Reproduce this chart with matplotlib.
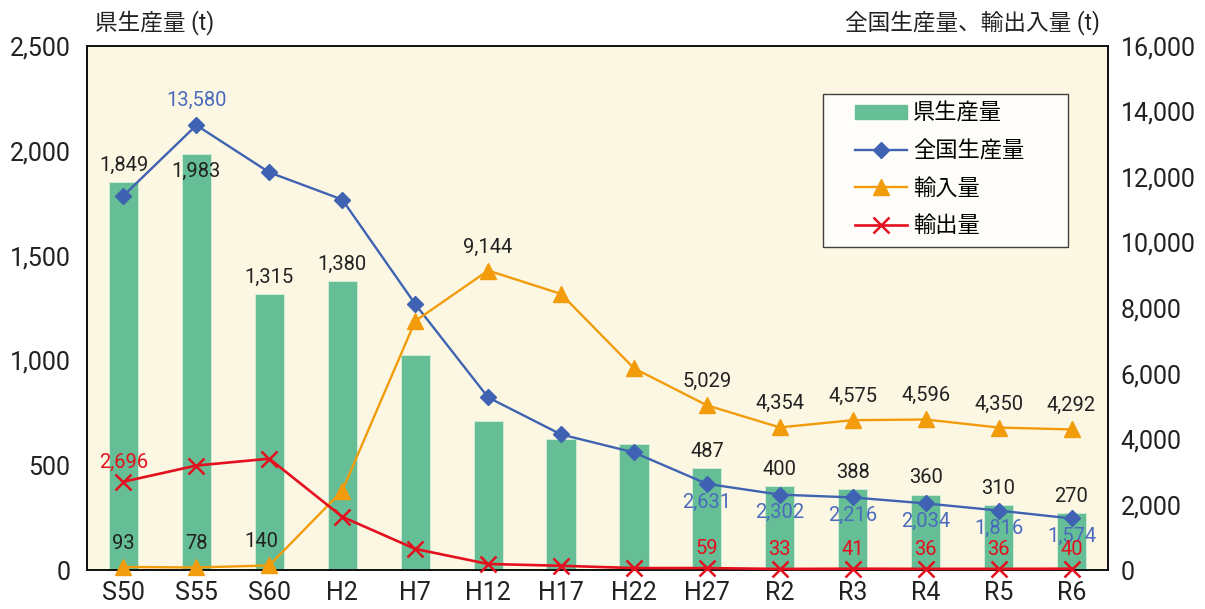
"""
Prefecture / national production, import and export chart
"""

            #################
            #### IMPORTS ####

import numpy as np
import matplotlib
matplotlib.use('Agg')
import matplotlib.pyplot as plt
from matplotlib.ticker import FuncFormatter
from matplotlib.legend_handler import HandlerLine2D, HandlerPatch

plt.rcParams['font.family'] = ['Roboto', 'Noto Sans CJK JP', 'DejaVu Sans']
plt.rcParams['font.weight'] = 'normal'

            ##############
            #### DATA ####

years = ['S50', 'S55', 'S60', 'H2', 'H7', 'H12', 'H17', 'H22',
         'H27', 'R2', 'R3', 'R4', 'R5', 'R6']
pref_prod = [1849, 1983, 1315, 1380, 1025, 709, 623, 599,
             487, 400, 388, 360, 310, 270]                      # left axis
nat_prod = [11430, 13580, 12140, 11310, 8120, 5270, 4140, 3590,
            2631, 2302, 2216, 2034, 1816, 1574]                 # right axis
imports = [93, 78, 140, 2420, 7600, 9144, 8430, 6160,
           5029, 4354, 4575, 4596, 4350, 4292]
exports = [2696, 3190, 3400, 1625, 645, 185, 130, 60,
           59, 33, 41, 36, 36, 40]

# which points get a number printed next to them
pref_lab = [0, 1, 2, 3, 8, 9, 10, 11, 12, 13]
nat_lab = [1, 8, 9, 10, 11, 12, 13]
imp_lab = [0, 1, 2, 5, 8, 9, 10, 11, 12, 13]
exp_lab = [0, 8, 9, 10, 11, 12, 13]

            ################
            #### COLORS ####

c_bar = '#66be97'
c_nat = '#3f62b2'
c_imp = '#f29c0c'
c_exp = '#e3101e'
c_bg = '#fcf7e3'

            ##############
            #### PLOT ####

fig = plt.figure(figsize=(12.05, 6.09), dpi=100)
ax = fig.add_axes([0.0722, 0.064, 0.8473, 0.8605])
ax.set_facecolor(c_bg)
ax2 = ax.twinx()

x = np.arange(len(years))
ax.bar(x, pref_prod, width=0.4, color=c_bar, edgecolor='#d8eed8',
       linewidth=0.6, zorder=2)

ax2.plot(x, nat_prod, color=c_nat, lw=1.7, marker='D', ms=8.5,
         zorder=3, label='全国生産量')
ax2.plot(x, imports, color=c_imp, lw=1.7, marker='^', ms=11,
         zorder=3, clip_on=False, label='輸入量')
ax2.plot(x, exports, color=c_exp, lw=1.9, marker='x', ms=11, mew=1.8,
         zorder=3, clip_on=False, label='輸出量')

            ### Axes ###
ax.set_xlim(-0.5, len(years) - 0.5)
ax.set_ylim(0, 2500)
ax2.set_ylim(0, 16000)
ax.set_yticks(np.arange(0, 2501, 500))
ax2.set_yticks(np.arange(0, 16001, 2000))
ax.set_xticks(x)
ax.set_xticklabels(years)
fmt = FuncFormatter(lambda v, p: '{:,.0f}'.format(v))
ax.yaxis.set_major_formatter(fmt)
ax2.yaxis.set_major_formatter(fmt)
ax.tick_params(axis='y', length=0, pad=12, labelsize=18, colors='#222222')
ax.tick_params(axis='x', length=0, pad=8, labelsize=18, colors='#222222')
ax2.tick_params(axis='y', length=0, pad=9, labelsize=18, colors='#222222')
for a in (ax, ax2):
    for s in a.spines.values():
        s.set_color('#111111')
        s.set_linewidth(1.3)

            ### Value labels ###
lab = dict(fontsize=14.5, ha='center', textcoords='offset points')
for i in pref_lab:
    off = -12 if i == 1 else 12
    ax.annotate('{:,}'.format(pref_prod[i]), (x[i], pref_prod[i]),
                xytext=(0, off), va='center', color='#222222', zorder=4, **lab)
for i in nat_lab:
    off = 18 if i == 1 else -13
    ax2.annotate('{:,}'.format(nat_prod[i]), (x[i], nat_prod[i]),
                 xytext=(0, off), va='center', color='#4a6bbd', **lab)
for i in imp_lab:
    dx = -6 if i == 2 else 0
    ax2.annotate('{:,}'.format(imports[i]), (x[i], imports[i]),
                 xytext=(dx, 17), va='center', color='#222222', **lab)
for i in exp_lab:
    ax2.annotate('{:,}'.format(exports[i]), (x[i], exports[i]),
                 xytext=(0, 14), va='center', color=c_exp, **lab)

            ### Legend ###
h_bar = plt.Rectangle((0, 0), 1, 1, color=c_bar)
h_lines = ax2.get_lines()
hmap = {h_bar: HandlerPatch(xpad=1.0)}
for h in h_lines:
    hmap[h] = HandlerLine2D(xpad=1.0)
leg = ax2.legend([h_bar] + h_lines, ['県生産量', '全国生産量', '輸入量', '輸出量'],
                 handler_map=hmap, loc='upper left',
                 bbox_to_anchor=(0.721, 0.908 - 0.285, 0.240, 0.285),
                 mode='expand', fontsize=16, frameon=True, fancybox=False,
                 handlelength=3.35, handleheight=0.55, labelspacing=0.74,
                 borderpad=0.42, handletextpad=0.28, borderaxespad=0)
leg.get_frame().set_edgecolor('#111111')
leg.get_frame().set_linewidth(1.0)

            ### Axis titles ###
fig.text(0.079, 0.963, '県生産量 (t)', fontsize=16.3, ha='left', va='center',
         color='#222222')
fig.text(0.913, 0.963, '全国生産量、輸出入量 (t)', fontsize=16.3, ha='right',
         va='center', color='#222222')

plt.savefig('out.png', dpi=100)
plt.close()
